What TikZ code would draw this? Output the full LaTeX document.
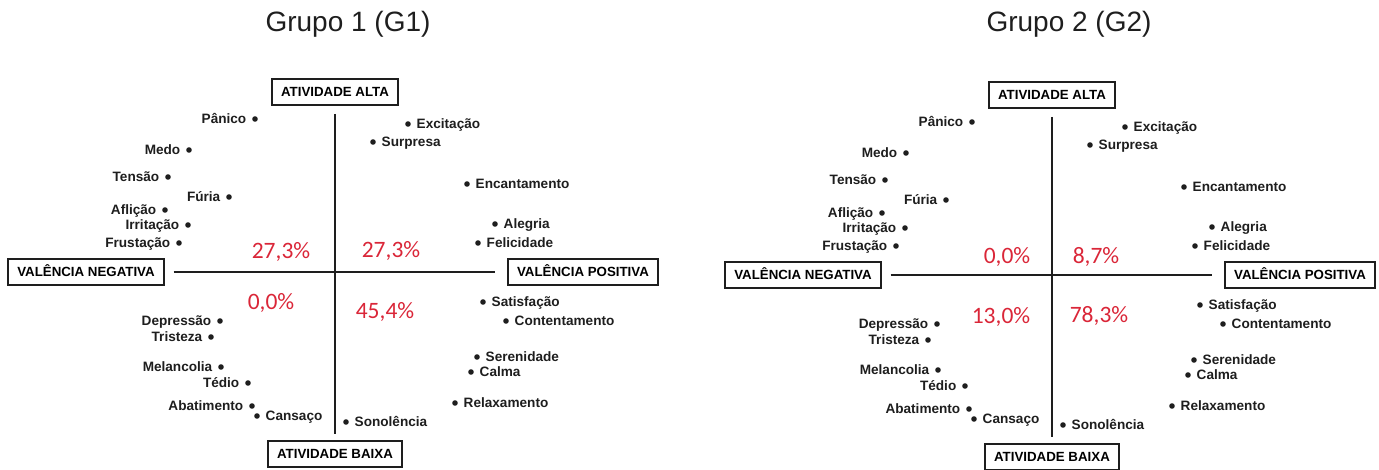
\documentclass[tikz,border=0pt]{standalone}
\usepackage{fontspec}
\setmainfont{Liberation Sans}
\newfontfamily\pctfont{Carlito}
\definecolor{pctred}{RGB}{218,38,56}
\definecolor{ink}{RGB}{30,30,30}
\tikzset{
  axisbox/.style={draw=ink, line width=1.7pt, inner xsep=9pt, minimum height=26pt,
    text height=9.5pt, text depth=0pt, font=\fontsize{13.3}{15}\selectfont\bfseries},
  axisline/.style={draw=ink, line width=2.2pt},
  dot/.style={circle, fill=ink, inner sep=0pt, minimum size=5.6pt},
  lbl/.style={font=\fontsize{13.6}{15}\selectfont\bfseries, text=ink, inner sep=2pt,
    text height=9.6pt, text depth=0pt},
  pct/.style={font=\pctfont\fontsize{23.5}{26}\selectfont, text=pctred},
  grptitle/.style={font=\fontsize{28}{32}\selectfont, text=ink}
}
\begin{document}
\begin{tikzpicture}[x=1pt, y=1pt, label distance=3.5pt]
\useasboundingbox (-335,-197) rectangle (1044,272);
% both panels share axes and emotion words
\foreach \g/\sx/\sy/\tx/\ty in {1/0/0/13/248, 2/717/-3/17/251} {
  \begin{scope}[shift={(\sx,\sy)}]
    \coordinate (o\g) at (0,0);
    \node[grptitle] (tit\g) at (\tx,\ty) {Grupo \g\ (G\g)};
    \node[axisbox] (alta\g) at (0,180) {ATIVIDADE ALTA};
    \node[axisbox] (baixa\g) at (0,-182) {ATIVIDADE BAIXA};
    \node[axisbox] (neg\g) at (-249,0) {VALÊNCIA NEGATIVA};
    \node[axisbox] (pos\g) at (248,0) {VALÊNCIA POSITIVA};
    \draw[axisline, shorten <=8pt, shorten >=6pt] (alta\g) -- (baixa\g);
    \draw[axisline, shorten <=9pt, shorten >=12pt] (neg\g) -- (pos\g);
    \foreach \x/\y/\side/\lab [count=\i] in {
        -80/153/left/Pânico, -146/122/left/Medo, -167/95/left/Tensão,
        -106/75/left/Fúria, -170/62/left/Aflição, -147/47/left/Irritação,
        -156/29/left/Frustação, 73/148/right/Excitação, 38/130/right/Surpresa,
        132/88/right/Encantamento, 160/48/right/Alegria, 143/29/right/Felicidade,
        148/-30/right/Satisfação, 171/-49/right/Contentamento,
        142/-85/right/Serenidade, 136/-100/right/Calma, 120/-131/right/Relaxamento,
        11/-150/right/Sonolência, -78/-144/right/Cansaço, -83/-134/left/Abatimento,
        -87/-111/left/Tédio, -114/-95/left/Melancolia, -124/-65/left/Tristeza,
        -115/-49/left/Depressão}
      \node[dot, label={[lbl]\side:\lab}] (e\g-\i) at (\x,\y) {};
  \end{scope}
}
% quadrant shares
\begin{scope}[shift={(o1)}]
  \node[pct] (p1a) at (-54,20) {27,3\%};
  \node[pct] (p1b) at (56,21) {27,3\%};
  \node[pct] (p1c) at (-64,-31) {0,0\%};
  \node[pct] (p1d) at (50,-40) {45,4\%};
\end{scope}
\begin{scope}[shift={(o2)}]
  \node[pct] (p2a) at (-45,18) {0,0\%};
  \node[pct] (p2b) at (44,18) {8,7\%};
  \node[pct] (p2c) at (-51,-42) {13,0\%};
  \node[pct] (p2d) at (47,-41) {78,3\%};
\end{scope}
\end{tikzpicture}
\end{document}
